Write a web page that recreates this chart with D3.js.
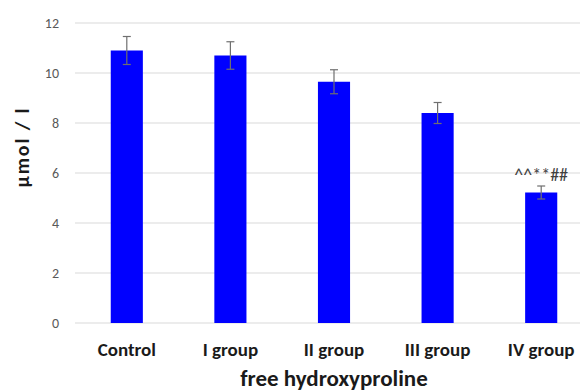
<!DOCTYPE html>
<html>
<head>
<meta charset="utf-8">
<script src="https://cdn.jsdelivr.net/npm/d3@7"></script>
<style>
  body { margin: 0; background: #fff; }
  svg { display: block; font-family: Carlito, Lato, "Open Sans", sans-serif; }
</style>
</head>
<body>
<script>
const groups = ["Control", "I group", "II group", "III group", "IV group"];
const means = [10.9, 10.7, 9.65, 8.4, 5.22];
const errors = [0.56, 0.55, 0.48, 0.42, 0.26];
const notes = ["", "", "", "", "^^**##"];
const yTicks = [0, 2, 4, 6, 8, 10, 12];

const W = 587, H = 392;
const svg = d3.select("body").append("svg").attr("width", W).attr("height", H);

const x = d3.scaleBand().domain(groups).range([75, 593]).paddingInner(0.69).paddingOuter(0.345);
const y = d3.scaleLinear().domain([0, 12]).range([323, 23]);

// gridlines
svg.append("g").selectAll("line").data(yTicks).enter().append("line")
  .attr("x1", 75).attr("x2", 580)
  .attr("y1", d => y(d)).attr("y2", d => y(d))
  .attr("stroke", "#d9d9d9").attr("stroke-width", 1);

// y tick labels
svg.append("g").selectAll("text").data(yTicks).enter().append("text")
  .attr("x", 59).attr("y", d => y(d)).attr("dy", "0.35em")
  .attr("text-anchor", "end").attr("font-size", 14).attr("fill", "#595959")
  .text(d => d);

// bars
svg.append("g").selectAll("rect").data(groups).enter().append("rect")
  .attr("x", d => x(d)).attr("width", x.bandwidth())
  .attr("y", (d, i) => y(means[i])).attr("height", (d, i) => y(0) - y(means[i]))
  .attr("fill", "#0000ff");

// error bars
const eb = svg.append("g").attr("stroke", "#6f6f6f").attr("stroke-width", 1.2);
groups.forEach((g, i) => {
  const cx = x(g) + x.bandwidth() / 2;
  const t = y(means[i] + errors[i]), b = y(means[i] - errors[i]);
  eb.append("line").attr("x1", cx).attr("x2", cx).attr("y1", t).attr("y2", b);
  eb.append("line").attr("x1", cx - 4).attr("x2", cx + 4).attr("y1", t).attr("y2", t);
  eb.append("line").attr("x1", cx - 4).attr("x2", cx + 4).attr("y1", b).attr("y2", b);
});

// annotations
svg.append("g").selectAll("text").data(groups).enter().append("text")
  .attr("x", d => x(d) + x.bandwidth() / 2)
  .attr("y", (d, i) => y(means[i] + errors[i]) - 5)
  .attr("text-anchor", "middle").attr("font-size", 18).attr("fill", "#404040")
  .text((d, i) => notes[i]);

// x labels
svg.append("g").selectAll("text").data(groups).enter().append("text")
  .attr("x", d => x(d) + x.bandwidth() / 2).attr("y", 356)
  .attr("text-anchor", "middle").attr("font-size", 19).attr("font-weight", "bold").attr("fill", "#1a1a1a")
  .text(d => d);

// axis titles
svg.append("text").attr("x", 334).attr("y", 386)
  .attr("text-anchor", "middle").attr("font-size", 23).attr("font-weight", "bold").attr("fill", "#1a1a1a")
  .text("free hydroxyproline");

svg.append("text").attr("transform", "translate(29,148) rotate(-90)")
  .attr("text-anchor", "middle").attr("font-size", 20).attr("font-weight", "bold").attr("fill", "#1a1a1a")
  .attr("textLength", 79).attr("lengthAdjust", "spacing")
  .text("µmol / l");
</script>
</body>
</html>
